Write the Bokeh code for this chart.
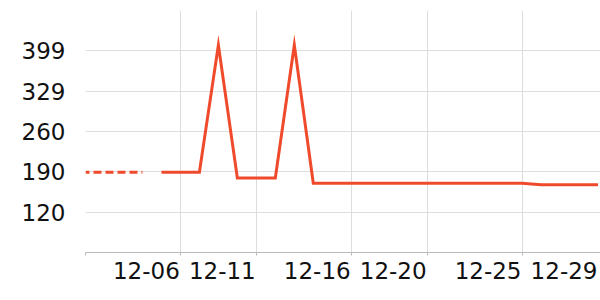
from bokeh.plotting import figure
from bokeh.models import Range1d, FixedTicker, LinearAxis
from bokeh.embed import file_html
from bokeh.resources import INLINE

# ---- data ----
dates = ["12-01", "12-02", "12-03", "12-04", "12-05", "12-06", "12-07", "12-08",
         "12-10", "12-11", "12-12", "12-13", "12-14", "12-15", "12-16", "12-17",
         "12-18", "12-19", "12-20", "12-21", "12-22", "12-23", "12-24", "12-25",
         "12-26", "12-27", "12-28", "12-29"]
values = [189, 189, 189, 189, 189, 189, 189, 409, 179, 179, 179, 409, 170, 170,
          170, 170, 170, 170, 170, 170, 170, 170, 170, 170, 167.5, 167.5, 167.5, 167.5]
dashed_count = 4  # first points drawn dashed
x_tick_labels = ["12-06", "12-11", "12-16", "12-20", "12-25", "12-29"]
y_ticks = [120, 189.75, 259.5, 329.25, 399]
y_labels = ["120", "190", "260", "329", "399"]

idx = list(range(len(dates)))
FONT = "DejaVu Sans"
FS = "23px"
RED = "#ef4a2b"
X_END = 27.13
FRAME_W = 515
LABEL_SHIFT = (34.0 / FRAME_W) * X_END  # right-align labels to their tick

p = figure(width=600, height=300, output_backend="svg", toolbar_location=None,
           x_range=Range1d(0, X_END), y_range=Range1d(50.25, 468.75),
           min_border_left=85, min_border_right=0, min_border_top=10,
           min_border_bottom=48)
p.outline_line_color = None
p.background_fill_color = "white"

# dashed part
p.line(idx[:dashed_count], values[:dashed_count], line_color=RED, line_width=3,
       line_dash="8 4", line_dash_offset=4)
# solid part
p.line(idx[dashed_count:], values[dashed_count:], line_color=RED, line_width=3,
       line_join="miter")

# x axis (ticks + line, no labels)
tick_pos = [dates.index(d) for d in x_tick_labels]
main_ticks = [0] + tick_pos[:-1]
xa = p.xaxis[0]
xa.ticker = FixedTicker(ticks=main_ticks)
xa.major_label_overrides = {t: "" for t in main_ticks}
xa.major_label_text_font_size = "1px"
xa.major_label_standoff = 0
xa.axis_line_color = "#bbbbbb"
xa.major_tick_line_color = "#bbbbbb"
xa.major_tick_in = 0
xa.major_tick_out = 3
xa.minor_tick_line_color = None
p.xgrid.ticker = FixedTicker(ticks=main_ticks)
p.xgrid.grid_line_color = "#dddddd"

# x labels axis (labels only, right-aligned to the ticks)
lab_pos = [t - LABEL_SHIFT for t in tick_pos]
xl = LinearAxis(ticker=FixedTicker(ticks=lab_pos),
                major_label_overrides={t: l for t, l in zip(lab_pos, x_tick_labels)},
                axis_line_color=None, major_tick_line_color=None,
                minor_tick_line_color=None, major_tick_in=0, major_tick_out=0,
                major_label_standoff=6, major_label_text_font=FONT,
                major_label_text_font_size=FS, major_label_text_color="#111111")
p.add_layout(xl, "below")

# y axis
p.yaxis.ticker = FixedTicker(ticks=y_ticks)
p.yaxis.major_label_overrides = {t: l for t, l in zip(y_ticks, y_labels)}
p.yaxis.axis_line_color = None
p.yaxis.major_tick_line_color = None
p.yaxis.minor_tick_line_color = None
p.yaxis.major_tick_out = 0
p.yaxis.major_tick_in = 0
p.yaxis.major_label_standoff = 20
p.yaxis.major_label_text_font = FONT
p.yaxis.major_label_text_font_size = FS
p.yaxis.major_label_text_color = "#111111"
p.ygrid.grid_line_color = "#dddddd"

open("out.html", "w").write(file_html(p, INLINE))
